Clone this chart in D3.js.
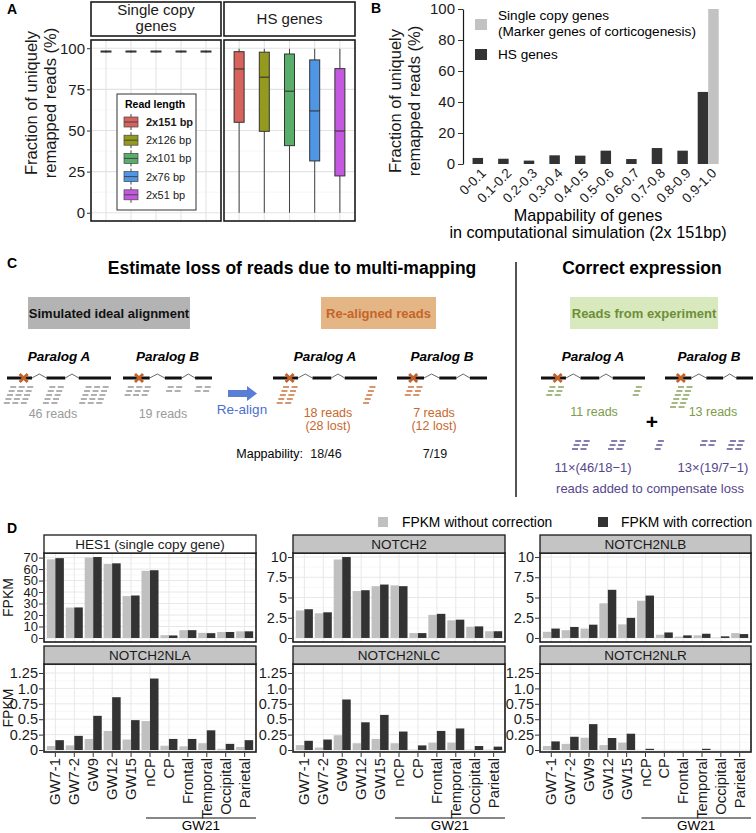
<!DOCTYPE html>
<html><head><meta charset="utf-8">
<script src="https://cdn.jsdelivr.net/npm/d3@7/dist/d3.min.js"></script>
<style>html,body{margin:0;padding:0;background:#fff;}svg{display:block;}</style>
</head><body>
<script>
// ================= DATA =================
// Panel A
const readLengths = ["2x151 bp","2x126 bp","2x101 bp","2x76 bp","2x51 bp"];
const readColors  = ["#d8625c","#939a1d","#5aae6b","#4f97e6","#c558e1"];
const singleLow  = [97.3,97.3,97.3,97.3,97.3];
const singleQ1   = [97.7,97.7,97.7,97.7,97.7];
const singleMed  = [98,98,98,98,98];
const singleQ3   = [98.3,98.3,98.3,98.3,98.3];
const singleHigh = [98.6,98.6,98.6,98.6,98.6];
const hsLow  = [0,0,0,0,0];
const hsQ1   = [55,49.5,40.8,31.5,22.4];
const hsMed  = [87.4,82.4,73.9,61.9,49.7];
const hsQ3   = [97.9,97.6,96.5,92.9,87.6];
const hsHigh = [99.7,99.7,99.7,99.7,99.7];
const yTicksA = [0,25,50,75,100];

// Panel B
const mapBins = ["0-0.1","0.1-0.2","0.2-0.3","0.3-0.4","0.4-0.5","0.5-0.6","0.6-0.7","0.7-0.8","0.8-0.9","0.9-1.0"];
const hsFrac     = [3.9,3.4,2.2,5.6,5.4,8.6,3.2,10.3,8.6,46.5];
const singleFrac = [null,null,null,null,null,null,null,null,null,100];
const yTicksB = [0,20,40,60,80,100];

// Panel C
const simReads = [46,19];
const realignedReads = [18,7];
const lostReads = [28,12];
const experimentReads = [11,13];

// Panel D
const stages = ["GW7-1","GW7-2","GW9","GW12","GW15","nCP","CP","Frontal","Temporal","Occipital","Parietal"];
const geneNames = ["HES1 (single copy gene)","NOTCH2","NOTCH2NLB","NOTCH2NLA","NOTCH2NLC","NOTCH2NLR"];
const hes1Without = [68.5,26.5,70,64.5,36.5,58.5,2.4,6.8,4.4,5.2,5.8];
const hes1With    = [69.5,26.6,70.5,65,37,59,2.2,6.8,4.2,5.2,5.8];
const notch2Without = [3.4,3.05,9.7,5.8,6.4,6.5,0.6,2.86,2.18,1.39,0.83];
const notch2With    = [3.55,3.17,10,5.9,6.6,6.4,0.6,2.98,2.26,1.43,0.83];
const nlbWithout = [0.76,0.96,1.16,4.28,1.68,4.6,0.4,0.16,0.32,0.04,0.6];
const nlbWith    = [1.16,1.36,1.64,5.95,2.48,5.24,0.68,0.32,0.52,0.2,0.48];
const nlaWithout = [0.065,0.075,0.18,0.31,0.17,0.47,0.07,0.06,0.11,0.02,0.05];
const nlaWith    = [0.16,0.23,0.555,0.857,0.485,1.16,0.18,0.18,0.32,0.1,0.16];
const nlcWithout = [0.08,0.04,0.24,0.11,0.18,0.11,0.005,0.12,0.12,0.005,0.005];
const nlcWith    = [0.15,0.17,0.82,0.45,0.57,0.30,0.075,0.31,0.35,0.065,0.055];
const nlrWithout = [0.065,0.1,0.2,0.08,0.12,0,0,0,0,0,0];
const nlrWith    = [0.14,0.215,0.42,0.195,0.265,0.02,0,0,0.02,0,0];

// ================= DRAWING =================
const FONT = '"Liberation Sans", Arial, Helvetica, sans-serif';
const svg = d3.select("body").append("svg").attr("width",756).attr("height",833)
  .attr("font-family",FONT);

function label(t,x,y){ svg.append("text").attr("x",x).attr("y",y).attr("font-size",14).attr("font-weight","bold").text(t); }
label("A",7,14); label("B",371,13); label("C",7,268); label("D",7,533);

function styleAxis(g,fs){
  g.attr("font-family",FONT).attr("font-size",fs);
  g.selectAll("text").attr("fill","#1a1a1a");
  g.selectAll("line").attr("stroke","#333");
}

// ---------- Panel A ----------
const yA = d3.scaleLinear().domain([-5,105]).range([221,40]);
const facetsA = [
  {lines:["Single copy","genes"], x0:91, x1:221, lo:singleLow, q1:singleQ1, md:singleMed, q3:singleQ3, hi:singleHigh},
  {lines:["HS genes"], x0:224, x1:355, lo:hsLow, q1:hsQ1, md:hsMed, q3:hsQ3, hi:hsHigh}
];
facetsA.forEach(f=>{
  const g = svg.append("g");
  const x = d3.scaleBand().domain(readLengths).range([f.x0,f.x1]).paddingInner(0).paddingOuter(0.1);
  g.append("rect").attr("x",f.x0).attr("y",2).attr("width",f.x1-f.x0).attr("height",34)
    .attr("fill","#fff").attr("stroke","#1a1a1a").attr("stroke-width",1.6);
  f.lines.forEach((l,i)=>g.append("text").attr("x",(f.x0+f.x1)/2)
    .attr("y",f.lines.length===2?15+i*16:24).attr("text-anchor","middle").attr("font-size",15)
    .attr("fill","#1a1a1a").text(l));
  const minor=[12.5,37.5,62.5,87.5];
  g.selectAll(".mn").data(minor).join("line").attr("x1",f.x0).attr("x2",f.x1)
    .attr("y1",d=>yA(d)).attr("y2",d=>yA(d)).attr("stroke","#f1f1f1").attr("stroke-width",0.6);
  g.selectAll(".mj").data(yTicksA).join("line").attr("x1",f.x0).attr("x2",f.x1)
    .attr("y1",d=>yA(d)).attr("y2",d=>yA(d)).attr("stroke","#e3e3e3").attr("stroke-width",1.1);
  g.selectAll(".vg").data(readLengths).join("line").attr("x1",d=>x(d)+x.bandwidth()/2).attr("x2",d=>x(d)+x.bandwidth()/2)
    .attr("y1",40).attr("y2",221).attr("stroke","#e3e3e3").attr("stroke-width",1.1);
  readLengths.forEach((r,i)=>{
    const cx = x(r)+x.bandwidth()/2, bw = 10;
    g.append("line").attr("x1",cx).attr("x2",cx).attr("y1",yA(f.lo[i])).attr("y2",yA(f.hi[i]))
      .attr("stroke","#444").attr("stroke-width",1);
    g.append("rect").attr("x",cx-bw/2).attr("y",yA(f.q3[i])).attr("width",bw)
      .attr("height",Math.max(0.5,yA(f.q1[i])-yA(f.q3[i]))).attr("fill",readColors[i])
      .attr("stroke","#333").attr("stroke-width",1);
    g.append("line").attr("x1",cx-bw/2).attr("x2",cx+bw/2).attr("y1",yA(f.md[i])).attr("y2",yA(f.md[i]))
      .attr("stroke","#333").attr("stroke-width",1.1);
  });
  g.append("rect").attr("x",f.x0).attr("y",40).attr("width",f.x1-f.x0).attr("height",181)
    .attr("fill","none").attr("stroke","#1a1a1a").attr("stroke-width",1.6);
});
const axA = svg.append("g").attr("transform","translate(90,0)")
  .call(d3.axisLeft(yA).tickValues(yTicksA).tickSize(3).tickPadding(2));
axA.select(".domain").remove(); styleAxis(axA,15);
[["Fraction of uniquely",37],["remapped reads (%)",56]].forEach(([t,xx])=>
  svg.append("text").attr("transform",`translate(${xx},103) rotate(-90)`).attr("text-anchor","middle")
    .attr("font-size",16.5).attr("fill","#1a1a1a").text(t));
// legend A
const lgA = svg.append("g");
lgA.append("rect").attr("x",117).attr("y",94).attr("width",79).attr("height",116)
  .attr("fill","#fff").attr("stroke","#333").attr("stroke-width",1);
lgA.append("text").attr("x",125).attr("y",108).attr("font-size",10.5).attr("font-weight","bold").text("Read length");
readLengths.forEach((r,i)=>{
  const yy = 122+i*18.2;
  lgA.append("line").attr("x1",131).attr("x2",131).attr("y1",yy-8).attr("y2",yy+8).attr("stroke","#444");
  lgA.append("rect").attr("x",124).attr("y",yy-5).attr("width",14).attr("height",10)
    .attr("fill",readColors[i]).attr("stroke","#444").attr("stroke-width",0.7);
  lgA.append("line").attr("x1",124).attr("x2",138).attr("y1",yy).attr("y2",yy).attr("stroke","#444");
  lgA.append("text").attr("x",146).attr("y",yy+4).attr("font-size",11).attr("fill","#1a1a1a")
    .attr("font-weight",i===0?"bold":"normal").text(r);
});

// ---------- Panel B ----------
const yB = d3.scaleLinear().domain([0,100]).range([164,9]);
const xB = d3.scaleBand().domain(mapBins).range([465,721]);
const bwB = 10.5;
const gB = svg.append("g");
mapBins.forEach((b,i)=>{
  const cx = xB(b)+xB.bandwidth()/2;
  const both = singleFrac[i]!==null;
  const xh = both ? cx-bwB : cx-bwB/2;
  gB.append("rect").attr("x",xh).attr("y",yB(hsFrac[i])).attr("width",bwB)
    .attr("height",yB(0)-yB(hsFrac[i])).attr("fill","#333");
  if(both) gB.append("rect").attr("x",cx).attr("y",yB(singleFrac[i])).attr("width",bwB)
    .attr("height",yB(0)-yB(singleFrac[i])).attr("fill","#c2c2c2");
  gB.append("text").attr("transform",`translate(${cx+9},174) rotate(-45)`).attr("text-anchor","end")
    .attr("font-size",13.5).attr("fill","#1a1a1a").text(b);
});
const axB = svg.append("g").attr("transform","translate(463,0)")
  .call(d3.axisLeft(yB).tickValues(yTicksB).tickSize(5).tickSizeOuter(0).tickPadding(3));
styleAxis(axB,15); axB.select(".domain").attr("stroke","#1a1a1a").attr("stroke-width",1.2);
[["Fraction of uniquely",401],["remapped reads (%)",420]].forEach(([t,xx])=>
  svg.append("text").attr("transform",`translate(${xx},101) rotate(-90)`).attr("text-anchor","middle")
    .attr("font-size",16.5).attr("fill","#1a1a1a").text(t));
svg.append("text").attr("x",588).attr("y",221).attr("text-anchor","middle").attr("font-size",16.2).text("Mappability of genes");
svg.append("text").attr("x",588).attr("y",238).attr("text-anchor","middle").attr("font-size",16.2).text("in computational simulation (2x 151bp)");
svg.append("rect").attr("x",475).attr("y",19).attr("width",12).attr("height",11).attr("fill","#c2c2c2");
svg.append("rect").attr("x",475).attr("y",49).attr("width",12).attr("height",11).attr("fill","#333");
svg.append("text").attr("x",498).attr("y",20).attr("font-size",13.6).text("Single copy genes");
svg.append("text").attr("x",498).attr("y",36).attr("font-size",13.6).text("(Marker genes of corticogenesis)");
svg.append("text").attr("x",498).attr("y",59).attr("font-size",13.6).text("HS genes");

// ---------- Panel C ----------
const gC = svg.append("g");
gC.append("text").attr("x",292).attr("y",274).attr("text-anchor","middle").attr("font-size",17.5).attr("font-weight","bold")
  .text("Estimate loss of reads due to multi-mapping");
gC.append("text").attr("x",642).attr("y",274).attr("text-anchor","middle").attr("font-size",17.5).attr("font-weight","bold")
  .text("Correct expression");
gC.append("line").attr("x1",516).attr("x2",516).attr("y1",262).attr("y2",497).attr("stroke","#1a1a1a").attr("stroke-width",1.5);
[["Simulated ideal alignment",28,162,"#b3b3b3","#111"],["Re-aligned reads",321,115,"#e4b585","#c4652a"],
 ["Reads from experiment",570,148,"#d7e9bd","#6e8f38"]].forEach(([t,x,w,fill,col])=>{
  gC.append("rect").attr("x",x).attr("y",297).attr("width",w).attr("height",32).attr("fill",fill);
  gC.append("text").attr("x",x+w/2).attr("y",318).attr("text-anchor","middle").attr("font-size",13)
    .attr("font-weight","bold").attr("fill",col).text(t);
});
const exonsA = [[0,0.24],[0.38,0.56],[0.69,1]], exonsB=[[0,0.3],[0.47,0.66],[0.81,1]];
const grey="#8f8f8f", orange="#c8682c", green="#7d9c4a", purple="#55468c";
const diagrams = [
  {label:"Paralog A",x0:7,  x1:111,ex:exonsA,mk:0.16,col:grey,  st:[[0.115,5,3],[0.45,5,2],[0.84,5,3]]},
  {label:"Paralog B",x0:123,x1:212,ex:exonsB,mk:0.18,col:grey,  st:[[0.17,3,3],[0.58,2,2],[0.9,2,2]]},
  {label:"Paralog A",x0:273,x1:377,ex:exonsA,mk:0.16,col:orange,st:[[0.14,5,2],[0.93,5,1]]},
  {label:"Paralog B",x0:397,x1:487,ex:exonsB,mk:0.18,col:orange,st:[[0.19,3,2]]},
  {label:"Paralog A",x0:541,x1:645,ex:exonsA,mk:0.16,col:green, st:[[0.14,3,2],[0.93,3,1]]},
  {label:"Paralog B",x0:665,x1:753,ex:exonsB,mk:0.18,col:green, st:[[0.19,6,2]]}
];
function stack(g,cx,top,rows,cols,col){
  const w = cols*8.5;
  for(let r=0;r<rows;r++) for(let c=0;c<cols;c++){
    const x = cx - w/2 + c*8.5 - r*1.6 + rows*0.8;
    g.append("line").attr("x1",x).attr("x2",x+6).attr("y1",top+r*4).attr("y2",top+r*4)
      .attr("stroke",col).attr("stroke-width",1.4);
  }
}
const gy = 378;
diagrams.forEach(d=>{
  const s = d3.scaleLinear().domain([0,1]).range([d.x0,d.x1]);
  gC.append("text").attr("x",(d.x0+d.x1)/2).attr("y",361).attr("text-anchor","middle").attr("font-size",13.5)
    .attr("font-weight","bold").attr("font-style","italic").text(d.label);
  d.ex.forEach((e,i)=>{
    gC.append("line").attr("x1",s(e[0])).attr("x2",s(e[1])).attr("y1",gy).attr("y2",gy).attr("stroke","#111").attr("stroke-width",3);
    if(i<d.ex.length-1){
      const a=s(e[1]), b=s(d.ex[i+1][0]);
      gC.append("polyline").attr("points",`${a},${gy} ${(a+b)/2},${gy-4} ${b},${gy}`).attr("fill","none")
        .attr("stroke","#444").attr("stroke-width",0.8);
    }
  });
  const mx = s(d.mk);
  [[-4,-4,4,4],[-4,4,4,-4]].forEach(([a,b,c,e])=>gC.append("line").attr("x1",mx+a).attr("y1",gy+b)
    .attr("x2",mx+c).attr("y2",gy+e).attr("stroke","#c0622a").attr("stroke-width",2.8));
  d.st.forEach(([p,r,c])=>stack(gC,s(p),387,r,c,d.col));
});
function ct(t,x,y,col,fs){ gC.append("text").attr("x",x).attr("y",y).attr("text-anchor","middle").attr("font-size",fs||12.5).attr("fill",col).text(t); }
ct(`${simReads[0]} reads`,53,418,"#9a9a9a"); ct(`${simReads[1]} reads`,163,418,"#9a9a9a");
ct(`${realignedReads[0]} reads`,328,417,orange); ct(`(${lostReads[0]} lost)`,328,430,orange);
ct(`${realignedReads[1]} reads`,434,417,orange); ct(`(${lostReads[1]} lost)`,434,430,orange);
ct(`${experimentReads[0]} reads`,594,416,green); ct(`${experimentReads[1]} reads`,713,416,green);
ct("Re-align",242,414,"#4a6fd0",13.5);
gC.append("path").attr("d","M228,390 L247,390 L247,386 L257,393.5 L247,401 L247,397 L228,397 Z").attr("fill","#5a7dd6");
gC.append("text").attr("x",303).attr("y",458).attr("text-anchor","end").attr("font-size",12.5).text("Mappability:");
ct(`${realignedReads[0]}/${simReads[0]}`,326,458,"#111"); ct(`${realignedReads[1]}/${simReads[1]}`,435,458,"#111");
gC.append("text").attr("x",652).attr("y",429).attr("text-anchor","middle").attr("font-size",21).attr("font-weight","bold").text("+");
const xCorr = d3.scaleLinear().domain([0,1]).range([541,753]);
[[0.19,3,2],[0.36,3,2],[0.56,3,1],[0.79,2,2],[0.92,3,2]].forEach(([p,r,c])=>stack(gC,xCorr(p),441,r,c,purple));
ct(`${experimentReads[0]}×(${simReads[0]}/${realignedReads[0]}−1)`,593,472,purple,13);
ct(`${experimentReads[1]}×(${simReads[1]}/${realignedReads[1]}−1)`,713,472,purple,13);
ct("reads added to compensate loss",650,493,purple,13);

// ---------- Panel D ----------
const colX = [[44,256],[293,505],[540,751]];
const rowY = [{st:535,top:553,bot:642},{st:646,top:664,bot:752}];
const fmtD = d=> d===1?"1.0":String(d);
const facetsD = [
  {name:geneNames[0],c:0,r:0,wo:hes1Without,wi:hes1With,dom:[-3.5,74],ticks:[0,10,20,30,40,50,60,70],strip:"#fff",fs:13},
  {name:geneNames[1],c:1,r:0,wo:notch2Without,wi:notch2With,dom:[-0.5,10.5],ticks:[0,2.5,5,7.5,10],strip:"#c4c4c4",fs:14.5},
  {name:geneNames[2],c:2,r:0,wo:nlbWithout,wi:nlbWith,dom:[-0.5,10.5],ticks:[0,2.5,5,7.5,10],strip:"#c4c4c4",fs:14.5},
  {name:geneNames[3],c:0,r:1,wo:nlaWithout,wi:nlaWith,dom:[-0.032,1.396],ticks:[0,0.25,0.5,0.75,1,1.25],strip:"#c4c4c4",fs:14.5},
  {name:geneNames[4],c:1,r:1,wo:nlcWithout,wi:nlcWith,dom:[-0.032,1.396],ticks:[0,0.25,0.5,0.75,1,1.25],strip:"#c4c4c4",fs:14.5},
  {name:geneNames[5],c:2,r:1,wo:nlrWithout,wi:nlrWith,dom:[-0.032,1.396],ticks:[0,0.25,0.5,0.75,1,1.25],strip:"#c4c4c4",fs:14.5}
];
facetsD.forEach(f=>{
  const [x0,x1] = colX[f.c], R = rowY[f.r];
  const g = svg.append("g");
  const x = d3.scaleBand().domain(stages).range([x0,x1]).paddingInner(0).paddingOuter(0.1);
  const y = d3.scaleLinear().domain(f.dom).range([R.bot,R.top]);
  const step = f.ticks[1]-f.ticks[0];
  const minor = f.ticks.map(t=>t+step/2).filter(t=>t<f.dom[1]);
  g.selectAll(".mn").data(minor).join("line").attr("x1",x0).attr("x2",x1).attr("y1",d=>y(d)).attr("y2",d=>y(d))
    .attr("stroke","#f3f3f3").attr("stroke-width",0.6);
  g.selectAll(".mj").data(f.ticks).join("line").attr("x1",x0).attr("x2",x1).attr("y1",d=>y(d)).attr("y2",d=>y(d))
    .attr("stroke","#e8e8e8").attr("stroke-width",1);
  g.selectAll(".vg").data(stages).join("line").attr("x1",d=>x(d)+x.bandwidth()/2).attr("x2",d=>x(d)+x.bandwidth()/2)
    .attr("y1",R.top).attr("y2",R.bot).attr("stroke","#e8e8e8").attr("stroke-width",1);
  const bw = x.bandwidth()*0.45;
  stages.forEach((s,i)=>{
    const cx = x(s)+x.bandwidth()/2;
    g.append("rect").attr("x",cx-bw).attr("y",y(f.wo[i])).attr("width",bw).attr("height",Math.max(0,y(0)-y(f.wo[i]))).attr("fill","#c0c0c0");
    g.append("rect").attr("x",cx).attr("y",y(f.wi[i])).attr("width",bw).attr("height",Math.max(0,y(0)-y(f.wi[i]))).attr("fill","#333");
  });
  g.append("rect").attr("x",x0).attr("y",R.top).attr("width",x1-x0).attr("height",R.bot-R.top)
    .attr("fill","none").attr("stroke","#1a1a1a").attr("stroke-width",1.6);
  g.append("rect").attr("x",x0).attr("y",R.st).attr("width",x1-x0).attr("height",R.top-R.st)
    .attr("fill",f.strip).attr("stroke","#1a1a1a").attr("stroke-width",1.3);
  g.append("text").attr("x",(x0+x1)/2).attr("y",R.st+14).attr("text-anchor","middle").attr("font-size",13.5)
    .attr("fill","#1a1a1a").text(f.name);
  const ax = svg.append("g").attr("transform",`translate(${x0-1},0)`)
    .call(d3.axisLeft(y).tickValues(f.ticks).tickFormat(fmtD).tickSize(4).tickPadding(1));
  ax.select(".domain").remove(); styleAxis(ax,f.fs);
  if(f.r===1){
    const axb = svg.append("g").attr("transform",`translate(0,${R.bot+1})`)
      .call(d3.axisBottom(x).tickSize(4).tickFormat(""));
    axb.select(".domain").remove(); styleAxis(axb,13);
    stages.forEach(s=>{
      const cx = x(s)+x.bandwidth()/2;
      g.append("text").attr("transform",`translate(${cx+5},758) rotate(-90)`).attr("text-anchor","end")
        .attr("font-size",14.8).attr("fill","#1a1a1a").text(s);
    });
    const xs = x("nCP")+x.bandwidth()/2-4;
    g.append("line").attr("x1",xs).attr("x2",x1).attr("y1",818).attr("y2",818).attr("stroke","#111").attr("stroke-width",1.2);
    g.append("text").attr("x",(xs+x1)/2).attr("y",830).attr("text-anchor","middle").attr("font-size",13.5).text("GW21");
  }
  if(f.c===0){
    svg.append("text").attr("transform",`translate(13,${(R.top+R.bot)/2}) rotate(-90)`).attr("text-anchor","middle")
      .attr("font-size",14).attr("fill","#1a1a1a").text("FPKM");
  }
});
svg.append("rect").attr("x",378).attr("y",517).attr("width",10).attr("height",10).attr("fill","#c0c0c0");
svg.append("text").attr("x",402).attr("y",527).attr("font-size",13.8).text("FPKM without correction");
svg.append("rect").attr("x",598).attr("y",517).attr("width",10).attr("height",10).attr("fill","#333");
svg.append("text").attr("x",621).attr("y",527).attr("font-size",13.8).text("FPKM with correction");
</script>
</body></html>
